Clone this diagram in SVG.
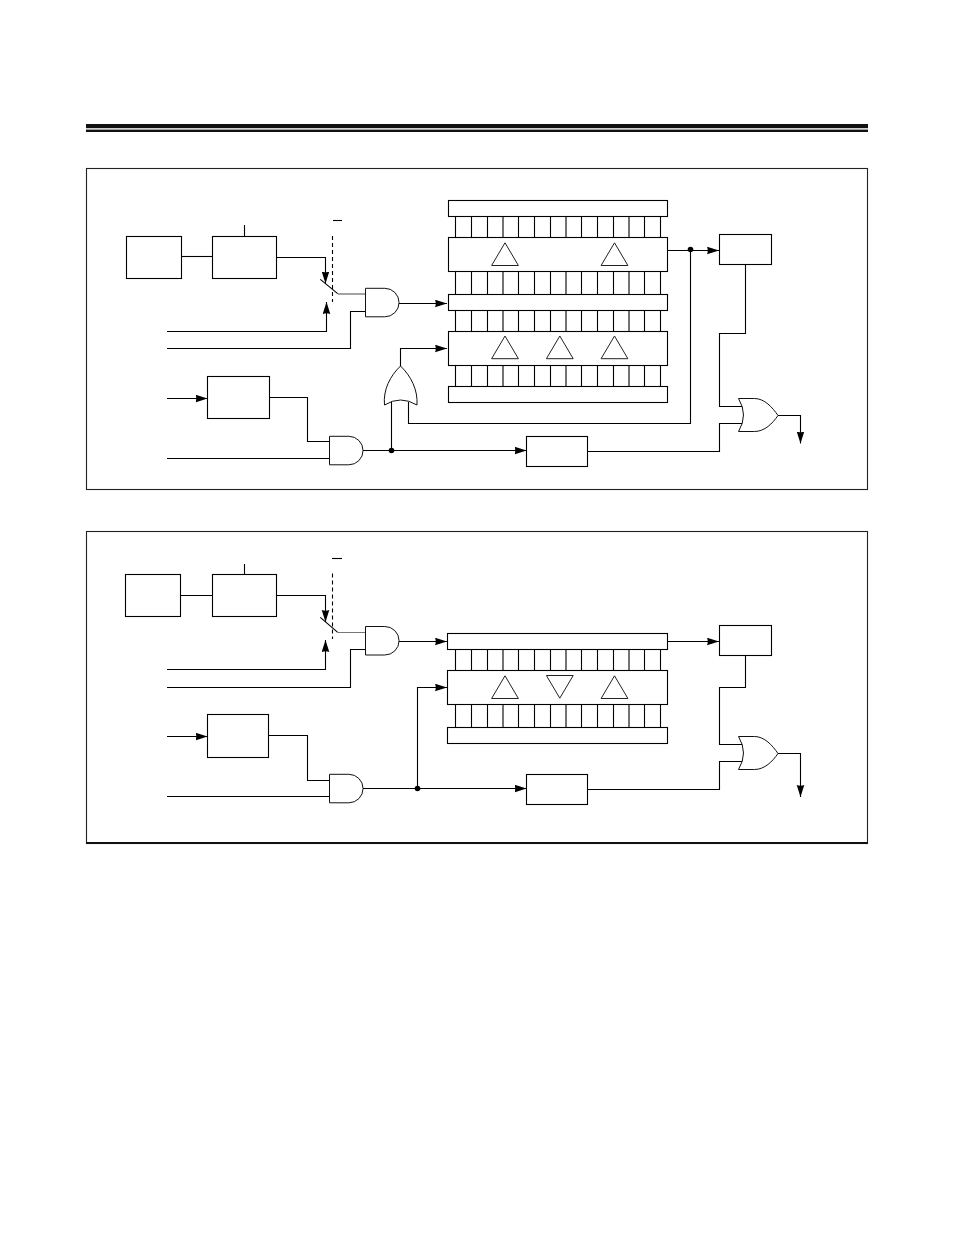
<svg xmlns="http://www.w3.org/2000/svg" width="954" height="1235" viewBox="0 0 954 1235">
<style>
.n{fill:#fff;stroke:#000;stroke-width:1.1}
.g{fill:#fff;stroke:#111;stroke-width:1}
.c{fill:none;stroke:#000;stroke-width:1.1}
.t{fill:none;stroke:#222;stroke-width:1}
.a{marker-end:url(#arrow)}
</style>
<defs>
<marker id="arrow" markerUnits="userSpaceOnUse" markerWidth="13" markerHeight="9" refX="12" refY="4" orient="auto"><path d="M0 0.2L12 4L0 7.8Q1.5 4 0 0.2z" fill="#000"/></marker>
<path id="and" class="g" d="M0 0H19.3A14.25 14.25 0 0 1 19.3 28.5H0z"/>
<path id="or" class="g" d="M0 0Q10 16.5 0 33H16C26 33 34 25 39.5 17C34 9 26 0 16 0z"/>
<path id="tri" class="t" d="M0 0L13.4 22.7H-13.4z"/>
<path id="tri2" class="t" d="M0 22.7L13.4 0H-13.4z"/>
<path id="t21" class="c" d="M455.5 0v21M471.5 0v21M487.5 0v21M503 0v21M518.5 0v21M534.5 0v21M550.5 0v21M566 0v21M581.5 0v21M597.5 0v21M613.5 0v21M629 0v21M644.5 0v21M660.5 0v21"/>
<path id="t23" class="c" d="M455.5 0v23M471.5 0v23M487.5 0v23M503 0v23M518.5 0v23M534.5 0v23M550.5 0v23M566 0v23M581.5 0v23M597.5 0v23M613.5 0v23M629 0v23M644.5 0v23M660.5 0v23"/>
</defs>
<rect width="954" height="1235" fill="#fff"/>
<g id="header">
<rect x="86" y="124" width="782" height="4.2" fill="#111"/>
<rect x="86" y="129.6" width="782" height="2.4" fill="#111"/>
</g>
<rect id="frame-top" x="86.5" y="168.5" width="781" height="321" fill="none" stroke="#222" stroke-width="1.1"/>
<rect id="frame-bottom" x="86.5" y="531.5" width="781" height="312" fill="none" stroke="#222" stroke-width="1.1"/>
<path d="M86 843H868" stroke="#111" stroke-width="2" fill="none"/>

<g id="connectors-top">
<path class="c" d="M181.5 256.5H212.5"/>
<path class="c" d="M244.5 225V236.5"/>
<path class="c" d="M333 220.5H342" />
<path class="c" d="M332.5 236V302" stroke-dasharray="4 3"/>
<path class="c a" d="M276.5 257.5H325.5V283.5"/>
<path class="c" d="M320.3 279.3L337.7 293.7"/>
<path d="M337.7 294H365.5" fill="none" stroke="#666" stroke-width="1.2"/>
<path class="c a" d="M167 331.5H326.5V302"/>
<path class="c" d="M167 348.5H350.5V311.5H365.5"/>
<path class="c a" d="M399 303.5H447"/>
<path class="c a" d="M167 398.5H207.5"/>
<path class="c" d="M269.5 397.5H307.5V441.5H329.5"/>
<path class="c" d="M167 458.5H329.5"/>
<path class="c a" d="M363 450.5H526.5"/>
<path class="c" d="M391.5 450.5V401"/>
<path class="c" d="M408.5 402V423.5H690.5V250"/>
<path class="c a" d="M400.5 366V348.5H447"/>
<path class="c a" d="M667.5 250.5H719"/>
<path class="c" d="M745.5 264.5V333.5H719.5V406.5H743"/>
<path class="c" d="M587.5 451.5H719.5V423.5H743"/>
<path class="c a" d="M778 415.5H800.5V443.5"/>
<circle cx="391.5" cy="450.5" r="2.8" fill="#000"/>
<circle cx="690.5" cy="249.5" r="2.8" fill="#000"/>
</g>

<g id="connectors-bottom">
<path class="c" d="M180.5 595.5H212.5"/>
<path class="c" d="M244.5 564V574.5"/>
<path class="c" d="M332 558.5H342"/>
<path class="c" d="M332.5 573.5V639" stroke-dasharray="4 3"/>
<path class="c a" d="M276.5 595.5H325.5V622"/>
<path class="c" d="M320.3 617.3L337.7 632.3"/>
<path d="M337.7 632.5H365.5" fill="none" stroke="#777" stroke-width="1"/>
<path class="c a" d="M167 669.5H325.5V640"/>
<path class="c" d="M167 687.5H350.5V649.5H365.5"/>
<path class="c a" d="M399 641.5H447"/>
<path class="c a" d="M167 736.5H207.5"/>
<path class="c" d="M268.5 735.5H307.5V780.5H329.5"/>
<path class="c" d="M167 796.5H329.5"/>
<path class="c a" d="M363 788.5H526.5"/>
<path class="c a" d="M417.5 788.5V687.5H447"/>
<path class="c a" d="M667.5 641.5H719"/>
<path class="c" d="M745.5 655.5V687.5H719.5V744.5H743"/>
<path class="c" d="M587.5 789.5H719.5V761.5H743"/>
<path class="c a" d="M778 753.5H800.5V797"/>
<circle cx="417.5" cy="788.5" r="2.8" fill="#000"/>
</g>

<g id="box-a1"><rect class="n" x="126.5" y="236.5" width="55" height="42"/></g>
<g id="box-b1"><rect class="n" x="212.5" y="236.5" width="64" height="42"/></g>
<g id="box-c1"><rect class="n" x="207.5" y="376.5" width="62" height="42"/></g>
<g id="box-d1"><rect class="n" x="719.5" y="234.5" width="52" height="30"/></g>
<g id="box-e1"><rect class="n" x="526.5" y="436.5" width="61" height="30"/></g>
<g id="and1-top"><use href="#and" x="365.5" y="288.3"/></g>
<g id="and2-top"><use href="#and" x="329.5" y="436.3"/></g>
<g id="or1-top"><path class="g" d="M384.5 405C383 390 390 376 400.5 366C411 376 418 390 417 405Q400.5 395 384.5 405z"/></g>
<g id="or2-top"><use href="#or" x="738.5" y="398.5"/></g>
<g id="register-top">
<use href="#t21" y="216.5"/><use href="#t23" y="271.5"/><use href="#t21" y="310.5"/><use href="#t21" y="365.5"/>
<rect class="n" x="448.5" y="200.5" width="219" height="16"/>
<rect class="n" x="448.5" y="237.5" width="219" height="34"/>
<rect class="n" x="448.5" y="294.5" width="219" height="16"/>
<rect class="n" x="448.5" y="331.5" width="219" height="34"/>
<rect class="n" x="448.5" y="386.5" width="219" height="16"/>
<use href="#tri" x="505" y="242.8"/><use href="#tri" x="614.5" y="242.8"/>
<use href="#tri" x="505" y="336"/><use href="#tri" x="559.8" y="336"/><use href="#tri" x="614.5" y="336"/>
</g>

<g id="box-a2"><rect class="n" x="125.5" y="574.5" width="55" height="42"/></g>
<g id="box-b2"><rect class="n" x="212.5" y="574.5" width="64" height="42"/></g>
<g id="box-c2"><rect class="n" x="207.5" y="714.5" width="61" height="43"/></g>
<g id="box-d2"><rect class="n" x="719.5" y="625.5" width="52" height="30"/></g>
<g id="box-e2"><rect class="n" x="526.5" y="774.5" width="61" height="30"/></g>
<g id="and1-bottom"><use href="#and" x="365.5" y="626.5"/></g>
<g id="and2-bottom"><use href="#and" x="329.5" y="774.3"/></g>
<g id="or2-bottom"><use href="#or" x="738.5" y="736.5"/></g>
<g id="register-bottom">
<use href="#t21" y="649.5"/><use href="#t23" y="704.5"/>
<rect class="n" x="447.5" y="633.5" width="220" height="16"/>
<rect class="n" x="447.5" y="670.5" width="220" height="34"/>
<rect class="n" x="447.5" y="727.5" width="220" height="16"/>
<use href="#tri" x="505" y="675.8"/><use href="#tri2" x="559.8" y="675.5"/><use href="#tri" x="614.5" y="675.8"/>
</g>
</svg>
